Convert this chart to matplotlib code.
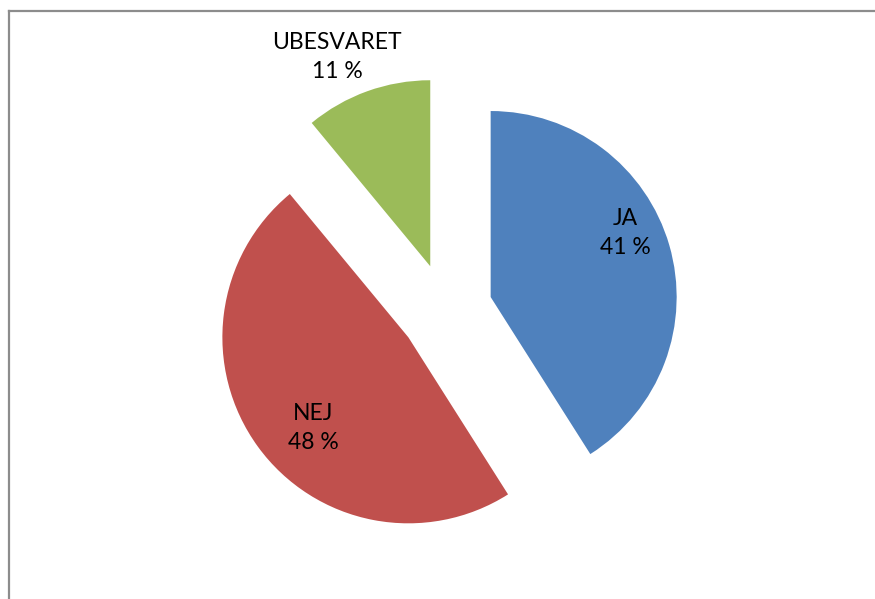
import matplotlib
matplotlib.use("Agg")
import matplotlib.pyplot as plt
from matplotlib.lines import Line2D

labels = ["JA", "NEJ", "UBESVARET"]
shares = [41, 48, 11]
colors = ["#4F81BD", "#C0504D", "#9BBB59"]

plt.rcParams['font.family'] = ['Lato', 'DejaVu Sans']

fig = plt.figure(figsize=(8.75, 5.99), dpi=100)
ax = fig.add_axes([0, 0, 1, 1])

# pie in pixel-like data units (y measured from bottom)
cx, cy, r = 446, 599 - 310, 186
# explode offset is in data units, not radius fractions
wedges, _ = ax.pie(shares, colors=colors, startangle=90, counterclock=False,
                   explode=[0.25 * r] * len(shares), radius=r, center=(cx, cy),
                   frame=True, wedgeprops=dict(linewidth=0))
ax.set_xlim(0, 875)
ax.set_ylim(0, 599)
ax.set_aspect('auto')
ax.axis('off')

# data labels (Excel style: name + percent)
label_pos = [(625, 599 - 233), (313, 599 - 428), (337, 599 - 57)]
for lab, val, (x, y) in zip(labels, shares, label_pos):
    ax.text(x, y, f"{lab}\n{val} %", ha='center', va='center',
            fontsize=16.5, linespacing=1.45, color='black')

# chart frame (only top and left visible)
fig.add_artist(Line2D([9 / 875, 1], [1 - 11 / 599, 1 - 11 / 599],
                      transform=fig.transFigure, color='#8c8c8c', lw=1.6))
fig.add_artist(Line2D([9 / 875, 9 / 875], [0, 1 - 11 / 599],
                      transform=fig.transFigure, color='#8c8c8c', lw=1.6))

fig.savefig("out.png", dpi=100)
